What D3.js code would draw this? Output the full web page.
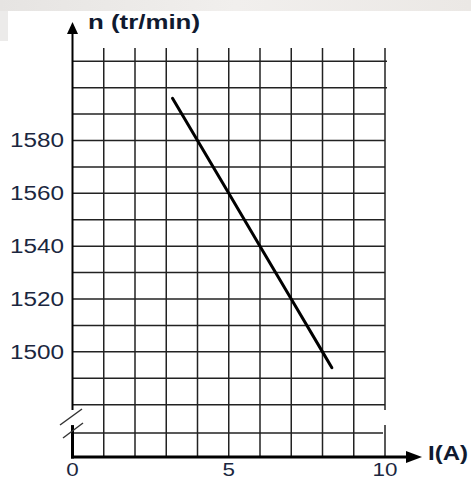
<!DOCTYPE html>
<html><head><meta charset="utf-8">
<script src="https://cdn.jsdelivr.net/npm/d3@7"></script>
<style>html,body{margin:0;padding:0;background:#fff;}svg{display:block;}</style>
</head><body>
<script>
// ---- data ----
const currentA = [3.2, 4, 5, 6, 7, 8, 8.3];
const speedRpm = [1596, 1580, 1560, 1540, 1520, 1500, 1494];
const yTickValues = [1500, 1520, 1540, 1560, 1580];
const xTickValues = [0, 5, 10];
const xTitle = "I(A)";
const yTitle = "n (tr/min)";

const W = 471, H = 481;
const svg = d3.select("body").append("svg").attr("width", W).attr("height", H);

// photo-like background band at top
const defs = svg.append("defs");
const g1 = defs.append("linearGradient").attr("id","topg").attr("x1",0).attr("x2",1);
g1.append("stop").attr("offset","0%").attr("stop-color","#e6e4e2");
g1.append("stop").attr("offset","50%").attr("stop-color","#f1efed");
g1.append("stop").attr("offset","100%").attr("stop-color","#ebe8e5");
svg.append("rect").attr("x",0).attr("y",0).attr("width",W).attr("height",11).attr("fill","url(#topg)");
svg.append("rect").attr("x",0).attr("y",11).attr("width",8).attr("height",30).attr("fill","#ecebea");

// scales
const x = d3.scaleLinear().domain([0, 10]).range([72.5, 385]);
const y = d3.scaleLinear().domain([1478, 1615]).range([410, 48]);     // upper (broken) part
const yLow = d3.scaleLinear().domain([0, 10]).range([457, 433]);      // lower part near origin

const gridColor = "#222";
const grid = svg.append("g").attr("stroke", gridColor).attr("stroke-width", 1.5).attr("fill","none");

// vertical grid lines
d3.range(1, 11).forEach(i => {
  if (i < 10) {
    grid.append("line").attr("x1", x(i)).attr("x2", x(i)).attr("y1", y(1615)).attr("y2", yLow(0));
  } else {
    grid.append("line").attr("x1", x(i)).attr("x2", x(i)).attr("y1", y(1615)).attr("y2", y(1478));
    grid.append("line").attr("x1", x(i)).attr("x2", x(i)).attr("y1", yLow(13.3)).attr("y2", yLow(0));
  }
});
// horizontal grid lines (upper)
d3.range(1480, 1611, 10).forEach(v => {
  grid.append("line").attr("x1", x(0)).attr("x2", v >= 1600 ? x(10) + 2 : x(10)).attr("y1", y(v)).attr("y2", y(v));
});
// lower grid line
grid.append("line").attr("x1", x(0)).attr("x2", x(10) - 2).attr("y1", yLow(10)).attr("y2", yLow(10));

// axes
const axisG = svg.append("g").attr("stroke", "#000").attr("fill", "none");
axisG.append("line").attr("x1", x(0)).attr("x2", x(0)).attr("y1", 30).attr("y2", y(1478)).attr("stroke-width", 2);
axisG.append("line").attr("x1", x(0)).attr("x2", x(0)).attr("y1", yLow(13.3)).attr("y2", yLow(0) + 1.5).attr("stroke-width", 3);
axisG.append("line").attr("x1", x(0) - 1.5).attr("x2", 410).attr("y1", yLow(0)).attr("y2", yLow(0)).attr("stroke-width", 3);
// arrows
svg.append("path").attr("d", `M${x(0)},22 L${x(0)-5.5},34 L${x(0)+5.5},34 Z`).attr("fill", "#000");
svg.append("path").attr("d", `M422,${yLow(0)} L406,${yLow(0)-6} L406,${yLow(0)+6} Z`).attr("fill", "#000");
// break marks
const brk = svg.append("g").attr("stroke", "#333").attr("stroke-width", 1.4);
brk.append("line").attr("x1", 60).attr("y1", 425).attr("x2", 82).attr("y2", 409);
brk.append("line").attr("x1", 63).attr("y1", 438).attr("x2", 83).attr("y2", 423);

// data line
const line = d3.line().x(d => x(d[0])).y(d => y(d[1]));
svg.append("path").datum(d3.zip(currentA, speedRpm)).attr("d", line)
  .attr("fill", "none").attr("stroke", "#000").attr("stroke-width", 3).attr("stroke-linecap","round");

// tick labels
const font = "'Liberation Sans', Arial, sans-serif";
const lblColor = "#1b2740";
svg.append("g").selectAll("text").data(yTickValues).join("text")
  .attr("x", 10).attr("y", d => y(d) + 7)
  .attr("textLength", 54).attr("lengthAdjust", "spacingAndGlyphs")
  .attr("font-family", font).attr("font-size", 20).attr("fill", lblColor)
  .text(d => d);
svg.append("g").selectAll("text").data(xTickValues).join("text")
  .attr("x", d => x(d)).attr("y", 476.5).attr("text-anchor", "middle")
  .attr("font-family", font).attr("font-size", 19).attr("fill", lblColor)
  .attr("transform", d => `translate(${x(d)},0) scale(1.18,1) translate(${-x(d)},0)`)
  .text(d => d);

// axis titles
svg.append("text").attr("x", 88).attr("y", 29).attr("textLength", 112).attr("lengthAdjust", "spacingAndGlyphs")
  .attr("font-family", font).attr("font-weight", "bold").attr("font-size", 20).attr("fill", "#101a30").text(yTitle);
svg.append("text").attr("x", 428).attr("y", 460).attr("textLength", 40).attr("lengthAdjust", "spacingAndGlyphs")
  .attr("font-family", font).attr("font-weight", "bold").attr("font-size", 20).attr("fill", "#101a30").text(xTitle);
</script>
</body></html>
